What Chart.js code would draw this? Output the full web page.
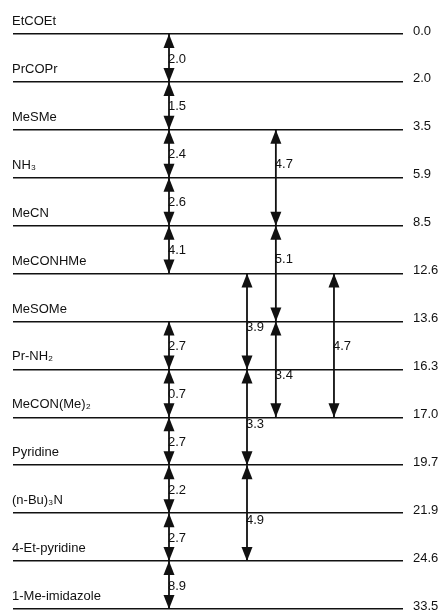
<!DOCTYPE html>
<html>
<head>
<meta charset="utf-8">
<script src="https://cdn.jsdelivr.net/npm/chart.js@4"></script>
<style>
	body { margin: 0; background: #fff; }
	#wrap { width: 440px; height: 610px; position: relative; }
</style>
</head>
<body>
<div id="wrap"><canvas id="ladder"></canvas></div>
<script>
// compounds, top to bottom, with their level value
const compounds = ['EtCOEt', 'PrCOPr', 'MeSMe', 'NH₃', 'MeCN', 'MeCONHMe', 'MeSOMe',
	'Pr-NH₂', 'MeCON(Me)₂', 'Pyridine', '(n-Bu)₃N', '4-Et-pyridine', '1-Me-imidazole'];
const levels = [0.0, 2.0, 3.5, 5.9, 8.5, 12.6, 13.6, 16.3, 17.0, 19.7, 21.9, 24.6, 33.5];

// double arrows: from compound index, to compound index, difference shown
const arrowFrom = [0, 1, 2, 3, 4, 6, 7, 8, 9, 10, 11, 2, 4, 6, 5, 7, 9, 5];
const arrowTo = [1, 2, 3, 4, 5, 7, 8, 9, 10, 11, 12, 4, 6, 8, 7, 9, 11, 8];
const arrowDiff = [2.0, 1.5, 2.4, 2.6, 4.1, 2.7, 0.7, 2.7, 2.2, 2.7, 8.9, 4.7, 5.1, 3.4, 3.9, 3.3, 4.9, 4.7];
const arrowLane = [0, 0, 0, 0, 0, 0, 0, 0, 0, 0, 0, 2, 2, 2, 1, 1, 1, 3];

// layout only: lane position on the hidden x scale (0..100), label nudge in px
const laneX = [40.0, 60.0, 67.4, 82.3];
const labelNudge = [1, 1, 1, 1, 1, 1, 1, 1, 1, 1, 1, -13, -14, 6, 6, 7, 7, 1];

const FONT = '"Liberation Sans", Arial, Helvetica, sans-serif';
const INK = '#111';

const datasets = arrowFrom.map((f, k) => ({
	label: arrowDiff[k].toFixed(1),
	data: [{ x: laneX[arrowLane[k]], y: f }, { x: laneX[arrowLane[k]], y: arrowTo[k] }],
	borderColor: INK,
	borderWidth: 1.8,
	pointRadius: 0,
	fill: false
}));

const ladderPlugin = {
	id: 'ladder',
	afterDatasetsDraw(chart) {
		const ctx = chart.ctx;
		const area = chart.chartArea;
		const y = chart.scales.y;
		ctx.save();
		ctx.fillStyle = INK;
		ctx.font = '13px ' + FONT;
		ctx.textAlign = 'left';
		ctx.textBaseline = 'alphabetic';
		// compound names above their line
		compounds.forEach((name, i) => {
			ctx.fillText(name, area.left - 1, y.getPixelForValue(i) - 9);
		});
		// arrow heads and difference labels
		chart.data.datasets.forEach((ds, k) => {
			const pts = chart.getDatasetMeta(k).data;
			const a = pts[0], b = pts[1];
			head(ctx, a.x, a.y, 1);
			head(ctx, b.x, b.y, -1);
			ctx.textBaseline = 'middle';
			ctx.fillText(ds.label, a.x - 1, (a.y + b.y) / 2 + labelNudge[k]);
		});
		ctx.restore();
	}
};

function head(ctx, x, tipY, dir) {
	ctx.beginPath();
	ctx.moveTo(x, tipY);
	ctx.lineTo(x - 5.5, tipY + 14 * dir);
	ctx.lineTo(x + 5.5, tipY + 14 * dir);
	ctx.closePath();
	ctx.fill();
}

new Chart(document.getElementById('ladder'), {
	type: 'line',
	data: { datasets: datasets },
	options: {
		responsive: true,
		maintainAspectRatio: false,
		animation: false,
		events: [],
		layout: { padding: { top: 34, left: 13, right: 0, bottom: 1 } },
		plugins: { legend: { display: false }, tooltip: { enabled: false } },
		scales: {
			x: { type: 'linear', min: 0, max: 100, display: false },
			y: {
				type: 'linear',
				position: 'right',
				reverse: true,
				min: 0,
				max: compounds.length - 1,
				afterBuildTicks: scale => {
					scale.ticks = compounds.map((c, i) => ({ value: i }));
				},
				afterFit: scale => {
					scale.width = 37;
					scale.paddingTop = 0;
					scale.paddingBottom = 0;
				},
				border: { display: false },
				grid: { color: INK, lineWidth: 1.6, drawTicks: false },
				ticks: {
					autoSkip: false,
					padding: 10,
					labelOffset: -3,
					color: INK,
					font: { family: FONT, size: 13 },
					callback: value => levels[value].toFixed(1)
				}
			}
		}
	},
	plugins: [ladderPlugin]
});
</script>
</body>
</html>
